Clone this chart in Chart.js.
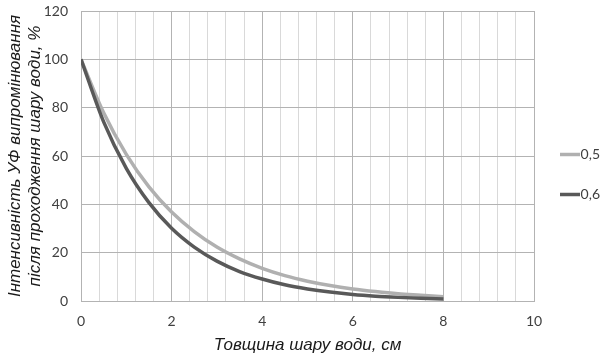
<!DOCTYPE html>
<html>
<head>
<meta charset="utf-8">
<script src="https://cdn.jsdelivr.net/npm/chart.js@4.4.1/dist/chart.umd.min.js"></script>
<style>
    html, body { margin: 0; padding: 0; background: #ffffff; }
    #wrap { width: 603px; height: 359px; }
</style>
</head>
<body>
<div id="wrap"><canvas id="uv-chart" width="603" height="359"></canvas></div>
<script>
    // Thickness of water layer, cm
    var thickness = [0, 0.5, 1, 1.5, 2, 2.5, 3, 3.5, 4, 4.5, 5, 5.5, 6, 6.5, 7, 7.5, 8];

    // UV intensity after the water layer, %
    var series05 = [100, 77.9, 60.7, 47.2, 36.8, 28.7, 22.3, 17.4, 13.5, 10.5, 8.2, 6.4, 5.0, 3.9, 3.0, 2.4, 1.8];
    var series06 = [100, 74.1, 54.9, 40.7, 30.1, 22.3, 16.5, 12.2, 9.1, 6.7, 5.0, 3.7, 2.7, 2.0, 1.5, 1.1, 0.8];

    var seriesNames = ['0,5', '0,6'];
    var xMajorTicks = [0, 2, 4, 6, 8, 10];
    var yTicks = [0, 20, 40, 60, 80, 100, 120];

    function toPoints(values) {
        return values.map(function(v, i) {
            return { x: thickness[i], y: v };
        });
    }

    function isMajor(v) {
        return xMajorTicks.some(function(t) { return Math.abs(t - v) < 1e-6; });
    }

    var tickFont = { family: 'Lato', size: 14 };
    var titleFont = { family: 'Liberation Sans', size: 17, style: 'italic' };

    new Chart(document.getElementById('uv-chart'), {
        type: 'line',
        data: {
            datasets: [{
                label: seriesNames[0],
                data: toPoints(series05),
                borderColor: '#b0b0b0',
                backgroundColor: '#b0b0b0',
                borderWidth: 3.5,
                pointRadius: 0,
                cubicInterpolationMode: 'monotone',
                order: 1
            }, {
                label: seriesNames[1],
                data: toPoints(series06),
                borderColor: '#595959',
                backgroundColor: '#595959',
                borderWidth: 3.5,
                pointRadius: 0,
                cubicInterpolationMode: 'monotone',
                order: 0
            }]
        },
        options: {
            responsive: false,
            animation: false,
            layout: { padding: { top: 0, right: 3, bottom: 10, left: 0 } },
            plugins: {
                tooltip: { enabled: false },
                legend: {
                    position: 'right',
                    maxWidth: 66,
                    labels: {
                        usePointStyle: true,
                        pointStyle: 'line',
                        pointStyleWidth: 20,
                        padding: 26,
                        textAlign: 'right',
                        color: '#404040',
                        font: tickFont,
                        sort: function(a, b) { return a.datasetIndex - b.datasetIndex; }
                    }
                }
            },
            scales: {
                x: {
                    type: 'linear',
                    min: 0,
                    max: 10,
                    afterFit: function(scale) { scale.height = 48; },
                    border: { color: '#b3b3b3' },
                    grid: {
                        drawTicks: false,
                        color: function(ctx) {
                            return isMajor(ctx.tick.value) ? '#b3b3b3' : '#d9d9d9';
                        }
                    },
                    ticks: {
                        stepSize: 0.4,
                        autoSkip: false,
                        maxRotation: 0,
                        padding: 12,
                        color: '#404040',
                        font: tickFont,
                        callback: function(v) {
                            return isMajor(v) ? String(Math.round(v)) : '';
                        }
                    },
                    title: {
                        display: true,
                        text: 'Товщина шару води, см',
                        color: '#1a1a1a',
                        font: titleFont,
                        padding: { top: 0, bottom: -6 }
                    }
                },
                y: {
                    min: yTicks[0],
                    max: yTicks[yTicks.length - 1],
                    afterFit: function(scale) {
                        scale.width = 81;
                        scale.paddingTop = 11;
                        scale.paddingBottom = 0;
                    },
                    border: { color: '#b3b3b3' },
                    grid: { drawTicks: false, color: '#b3b3b3' },
                    ticks: {
                        stepSize: 20,
                        padding: 13,
                        color: '#404040',
                        font: tickFont
                    },
                    title: {
                        display: true,
                        text: ['Інтенсивність УФ випромінювання', 'після проходження шару води, %'],
                        color: '#1a1a1a',
                        font: titleFont,
                        padding: { top: 5, bottom: 0 }
                    }
                }
            }
        }
    });
</script>
</body>
</html>
